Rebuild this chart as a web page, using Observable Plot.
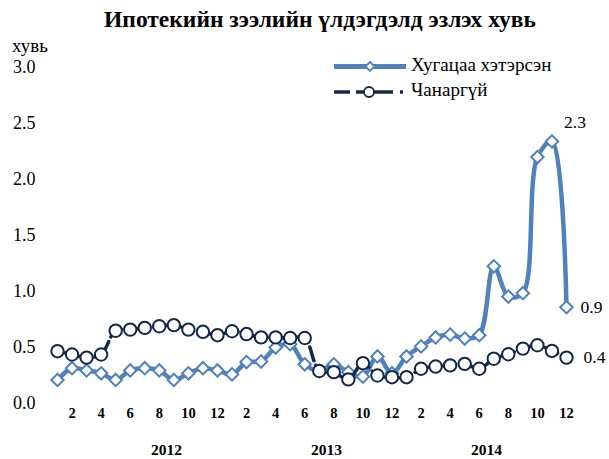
<!DOCTYPE html>
<html>
<head>
<meta charset="utf-8">
<script src="https://cdn.jsdelivr.net/npm/d3@7"></script>
<script src="https://cdn.jsdelivr.net/npm/@observablehq/plot@0.6"></script>
<style>
  html, body { margin: 0; padding: 0; background: white; }
  #chart { width: 609px; height: 459px; }
</style>
</head>
<body>
<div id="chart"></div>
<script>
// ---- data ----
const title = "Ипотекийн зээлийн үлдэгдэлд эзлэх хувь";
const yUnit = "хувь";
const seriesNames = ["Хугацаа хэтэрсэн", "Чанаргүй"];
const years = ["2012", "2013", "2014"];
const yearPos = [8.5, 19.5, 30.5];
const months = d3.range(1, 37); // Jan 2012 .. Dec 2014
const xTicks = [2,4,6,8,10,12,14,16,18,20,22,24,26,28,30,32,34,36];
const yTicks = [0, 0.5, 1.0, 1.5, 2.0, 2.5, 3.0];
const overdue = [0.21,0.315,0.295,0.27,0.21,0.295,0.315,0.295,0.21,0.27,0.315,0.295,
                 0.26,0.37,0.375,0.50,0.53,0.35,0.29,0.35,0.28,0.24,0.42,0.27,
                 0.42,0.51,0.59,0.615,0.58,0.61,1.225,0.955,0.985,2.20,2.34,0.86];
const npl = [0.467,0.4375,0.41,0.4375,0.65,0.66,0.675,0.69,0.70,0.66,0.64,0.61,
             0.645,0.62,0.59,0.59,0.585,0.585,0.29,0.28,0.215,0.36,0.25,0.235,
             0.235,0.31,0.33,0.34,0.354,0.31,0.40,0.44,0.49,0.52,0.47,0.41];

const blue = "#4f81bd";
const navy = "#12284a";
const serif = "Liberation Serif, Times New Roman, Times, serif";

const rows = months.map((m, i) => ({m, overdue: overdue[i], npl: npl[i]}));
const fmt = d3.format(".1f");
const peak = rows[d3.maxIndex(overdue)];
const last = rows[rows.length - 1];

const plot = Plot.plot({
  width: 609,
  height: 459,
  marginLeft: 35,
  marginRight: 43,
  marginTop: 67,
  marginBottom: 56,
  x: {domain: [1, 36], range: [57, 566]},
  y: {domain: [0, 3], range: [403, 67]},
  style: {fontFamily: serif, background: "white", color: "black", overflow: "visible"},
  marks: [
    Plot.axisY({ticks: yTicks, tickSize: 0, tickPadding: 0, tickFormat: fmt, fontSize: 18, label: null}),
    Plot.axisX({ticks: xTicks, tickSize: 0, tickPadding: 4, tickFormat: d => String(((d - 1) % 12) + 1),
                fontSize: 14.5, fontWeight: "bold", label: null}),
    Plot.text(years, {x: (d, i) => yearPos[i], frameAnchor: "bottom", dy: 47, text: d => d,
                      fontSize: 15.5, fontWeight: "bold", lineAnchor: "middle"}),
    Plot.line(rows, {x: "m", y: "overdue", curve: "catmull-rom", stroke: blue, strokeWidth: 4.5}),
    Plot.dot(rows, {x: "m", y: "overdue", symbol: "diamond2", r: 5.6, fill: "white", stroke: blue, strokeWidth: 2}),
    Plot.line(rows, {x: "m", y: "npl", curve: "catmull-rom", stroke: navy, strokeWidth: 3.5,
                     strokeDasharray: "14,5,14,5,3,5"}),
    Plot.dot(rows, {x: "m", y: "npl", r: 6.2, fill: "white", stroke: navy, strokeWidth: 2}),
    Plot.text([peak], {x: "m", y: "overdue", text: d => fmt(d.overdue), dx: 23, dy: -19, fontSize: 17.5}),
    Plot.text([last], {x: "m", y: "overdue", text: d => fmt(d.overdue), dx: 14, textAnchor: "start", fontSize: 17.5}),
    Plot.text([last], {x: "m", y: "npl", text: d => fmt(d.npl), dx: 17, textAnchor: "start", fontSize: 17.5})
  ]
});

document.getElementById("chart").appendChild(plot);

// title, unit label and legend
const svg = d3.select(plot);
svg.append("text").attr("x", 320).attr("y", 22).attr("text-anchor", "middle").attr("dominant-baseline", "middle")
  .attr("font-family", serif).attr("font-size", 23.5).attr("font-weight", "bold").text(title);
svg.append("text").attr("x", 12).attr("y", 48).attr("text-anchor", "start").attr("dominant-baseline", "middle")
  .attr("font-family", serif).attr("font-size", 19).text(yUnit);

const lg = svg.append("g");
// series 1
lg.append("line").attr("x1", 334).attr("x2", 406).attr("y1", 66.5).attr("y2", 66.5)
  .attr("stroke", blue).attr("stroke-width", 5);
lg.append("path").attr("d", "M370,62 L374.5,66.5 L370,71 L365.5,66.5 Z")
  .attr("fill", "white").attr("stroke", blue).attr("stroke-width", 1.8);
lg.append("text").attr("x", 411).attr("y", 66.5).attr("text-anchor", "start").attr("dominant-baseline", "middle")
  .attr("font-family", serif).attr("font-size", 19).text(seriesNames[0]);
// series 2
lg.append("line").attr("x1", 334).attr("x2", 406).attr("y1", 92).attr("y2", 92)
  .attr("stroke", navy).attr("stroke-width", 3.5).attr("stroke-dasharray", "16,6,37,7,3,50");
lg.append("circle").attr("cx", 369).attr("cy", 92).attr("r", 5)
  .attr("fill", "white").attr("stroke", navy).attr("stroke-width", 1.8);
lg.append("text").attr("x", 411).attr("y", 92).attr("text-anchor", "start").attr("dominant-baseline", "middle")
  .attr("font-family", serif).attr("font-size", 19).text(seriesNames[1]);
</script>
</body>
</html>
